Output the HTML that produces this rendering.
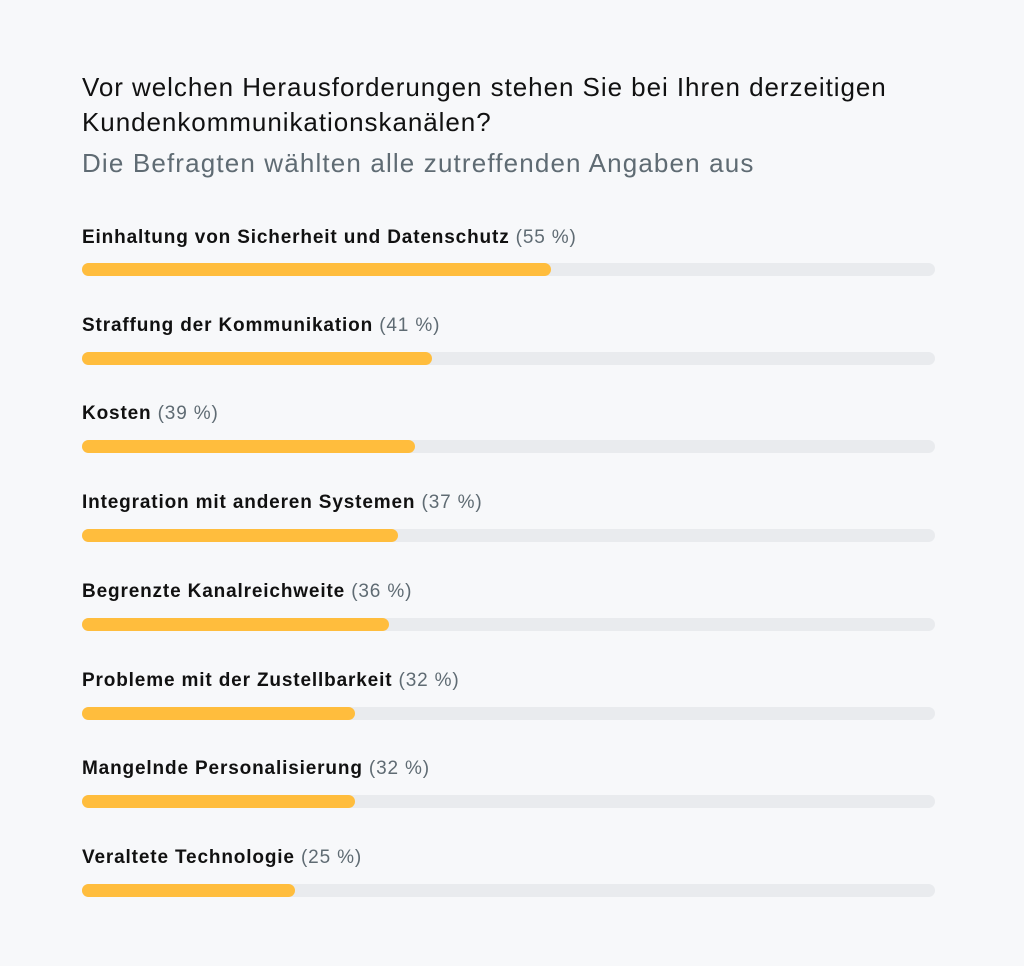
<!DOCTYPE html>
<html><head><meta charset="utf-8"><style>
body{margin:0;width:1024px;height:966px;background:#f7f8fa;font-family:"Liberation Sans",sans-serif;position:relative;overflow:hidden}
.t{position:absolute;left:82px;font-size:26px;letter-spacing:0.95px;color:#111;white-space:nowrap;line-height:30px}
.s{color:#5f6b73;letter-spacing:1.15px}
.l{position:absolute;left:82px;font-size:19px;letter-spacing:0.85px;font-weight:bold;color:#111;white-space:nowrap;line-height:22px}
.l span{font-weight:normal;color:#5f6b73}
.tr{position:absolute;left:82px;width:853px;height:13px;border-radius:7px;background:#e9ebee}
.b{height:13px;border-radius:7px;background:#ffbd3d}
</style></head><body>
<div class="t" style="top:72px">Vor welchen Herausforderungen stehen Sie bei Ihren derzeitigen</div>
<div class="t" style="top:107px">Kundenkommunikationskanälen?</div>
<div class="t s" style="top:148px">Die Befragten wählten alle zutreffenden Angaben aus</div>

<div class="l" style="top:227px">Einhaltung von Sicherheit und Datenschutz <span>(55 %)</span></div>
<div class="tr" style="top:263px"><div class="b" style="width:469px"></div></div>
<div class="l" style="top:315px">Straffung der Kommunikation <span>(41 %)</span></div>
<div class="tr" style="top:352px"><div class="b" style="width:350px"></div></div>
<div class="l" style="top:403px">Kosten <span>(39 %)</span></div>
<div class="tr" style="top:440px"><div class="b" style="width:333px"></div></div>
<div class="l" style="top:492px">Integration mit anderen Systemen <span>(37 %)</span></div>
<div class="tr" style="top:529px"><div class="b" style="width:316px"></div></div>
<div class="l" style="top:581px">Begrenzte Kanalreichweite <span>(36 %)</span></div>
<div class="tr" style="top:618px"><div class="b" style="width:307px"></div></div>
<div class="l" style="top:670px">Probleme mit der Zustellbarkeit <span>(32 %)</span></div>
<div class="tr" style="top:707px"><div class="b" style="width:273px"></div></div>
<div class="l" style="top:758px">Mangelnde Personalisierung <span>(32 %)</span></div>
<div class="tr" style="top:795px"><div class="b" style="width:273px"></div></div>
<div class="l" style="top:847px">Veraltete Technologie <span>(25 %)</span></div>
<div class="tr" style="top:884px"><div class="b" style="width:213px"></div></div>
</body></html>
